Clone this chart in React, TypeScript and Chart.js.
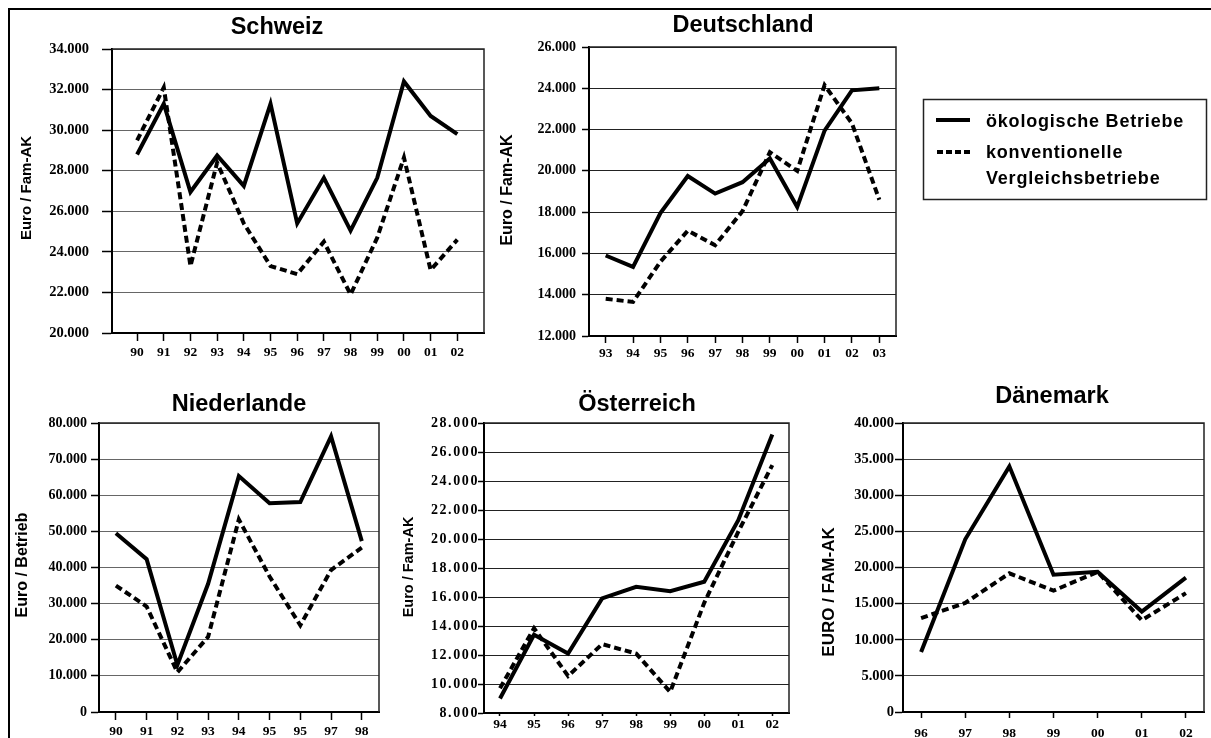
import React, { useEffect, useRef } from 'react';
import { Chart, registerables } from 'chart.js';

Chart.register(...registerables);

const PAGE_W = 1211;
const PAGE_H = 738;
const CANVAS_H = 790;

// ---------- DATA ----------
const seriesNames = ['ökologische Betriebe', 'konventionelle Vergleichsbetriebe'];

const chYears = ['90', '91', '92', '93', '94', '95', '96', '97', '98', '99', '00', '01', '02'];
const chOeko = [28800, 31300, 26950, 28750, 27250, 31300, 25400, 27650, 25050, 27650, 32400, 30700, 29800];
const chKonv = [29500, 32100, 23300, 28400, 25400, 23300, 22900, 24500, 21900, 24700, 28650, 23100, 24600];

const deYears = ['93', '94', '95', '96', '97', '98', '99', '00', '01', '02', '03'];
const deOeko = [15900, 15350, 17950, 19750, 18900, 19450, 20600, 18250, 21950, 23900, 24000];
const deKonv = [13800, 13650, 15600, 17100, 16400, 18050, 20900, 20000, 24150, 22300, 18600];

const nlYears = ['90', '91', '92', '93', '94', '95', '95', '97', '98'];
const nlOeko = [49500, 42300, 13000, 35500, 65300, 57800, 58100, 76300, 47300];
const nlKonv = [35000, 29200, 11000, 20800, 53300, 37500, 24000, 39300, 45500];

const atYears = ['94', '95', '96', '97', '98', '99', '00', '01', '02'];
const atOeko = [9000, 13400, 12100, 15900, 16700, 16400, 17050, 21300, 27200];
const atKonv = [9700, 13850, 10550, 12750, 12100, 9450, 15600, 20500, 25100];

const dkYears = ['96', '97', '98', '99', '00', '01', '02'];
const dkOeko = [8300, 23900, 34000, 19000, 19400, 13900, 18600];
const dkKonv = [13000, 15100, 19200, 16800, 19400, 12700, 16450];

// ---------- PANEL LAYOUT / STYLE ----------
type Panel = {
  title: string; titleX: number; titleY: number;
  yTitle: string; yTitleX: number; yTitleY: number; yTitleSize: number;
  labels: string[]; oeko: number[]; konv: number[];
  yMin: number; yMax: number; yStep: number;
  L: number; T: number; R: number; B: number;
  padL: number; padR: number;
  yTickLen: number; yTickPad: number; xTickLen: number; xTickPad: number;
  yFont: number; xFont: number; gridColor: string; ySpacing: number;
  legend?: boolean;
};

const panels: Panel[] = [
  {
    title: 'Schweiz', titleX: 277, titleY: 34,
    yTitle: 'Euro / Fam-AK', yTitleX: 31, yTitleY: 188, yTitleSize: 15,
    labels: chYears, oeko: chOeko, konv: chKonv,
    yMin: 20000, yMax: 34000, yStep: 2000,
    L: 112, T: 49, R: 484, B: 333, padL: 0.94, padR: 1.0,
    yTickLen: 10, yTickPad: 13, xTickLen: 8, xTickPad: 3,
    yFont: 14.5, xFont: 13.5, gridColor: '#666', ySpacing: 0,
  },
  {
    title: 'Deutschland', titleX: 743, titleY: 32,
    yTitle: 'Euro / Fam-AK', yTitleX: 512, yTitleY: 190, yTitleSize: 16,
    labels: deYears, oeko: deOeko, konv: deKonv,
    yMin: 12000, yMax: 26000, yStep: 2000,
    L: 589, T: 47, R: 896, B: 336, padL: 0.61, padR: 0.61,
    yTickLen: 7, yTickPad: 6, xTickLen: 7, xTickPad: 2,
    yFont: 14, xFont: 13.5, gridColor: '#222', ySpacing: 0, legend: true,
  },
  {
    title: 'Niederlande', titleX: 239, titleY: 411,
    yTitle: 'Euro / Betrieb', yTitleX: 27, yTitleY: 565, yTitleSize: 16,
    labels: nlYears, oeko: nlOeko, konv: nlKonv,
    yMin: 0, yMax: 80000, yStep: 10000,
    L: 99, T: 423, R: 379, B: 712, padL: 0.55, padR: 0.56,
    yTickLen: 8, yTickPad: 4, xTickLen: 8, xTickPad: 3,
    yFont: 14, xFont: 13.5, gridColor: '#666', ySpacing: 0,
  },
  {
    title: 'Österreich', titleX: 637, titleY: 411,
    yTitle: 'Euro / Fam-AK', yTitleX: 412.5, yTitleY: 567, yTitleSize: 14.5,
    labels: atYears, oeko: atOeko, konv: atKonv,
    yMin: 8000, yMax: 28000, yStep: 2000,
    L: 484, T: 423, R: 789, B: 713, padL: 0.47, padR: 0.49,
    yTickLen: 6, yTickPad: -1, xTickLen: 3, xTickPad: 0,
    yFont: 14, xFont: 13.5, gridColor: '#222', ySpacing: 1.6,
  },
  {
    title: 'Dänemark', titleX: 1052, titleY: 403,
    yTitle: 'EURO / FAM-AK', yTitleX: 834, yTitleY: 592, yTitleSize: 17,
    labels: dkYears, oeko: dkOeko, konv: dkKonv,
    yMin: 0, yMax: 40000, yStep: 5000,
    L: 903, T: 423, R: 1204, B: 712, padL: 0.41, padR: 0.41,
    yTickLen: 8, yTickPad: 1, xTickLen: 6, xTickPad: 7,
    yFont: 14.5, xFont: 13.5, gridColor: '#444', ySpacing: 0,
  },
];

const SANS = '"Liberation Sans", Arial, sans-serif';
const SERIF = '"Liberation Serif", "Times New Roman", serif';
const X_AXIS_H = 40;

const fmt = (v: number) => (v === 0 ? '0' : `${Math.round(v / 1000)}.000`);

function makeDecor(p: Panel) {
  return {
    id: 'decor',
    afterDraw(chart: Chart) {
      const ctx = chart.ctx;
      const a = chart.chartArea;
      ctx.save();
      // top & right frame of the plot
      ctx.strokeStyle = '#222';
      ctx.lineWidth = 1.5;
      ctx.setLineDash([]);
      ctx.beginPath();
      ctx.moveTo(a.left, a.top);
      ctx.lineTo(a.right, a.top);
      ctx.lineTo(a.right, a.bottom);
      ctx.stroke();
      // title
      ctx.fillStyle = '#000';
      ctx.textAlign = 'center';
      ctx.textBaseline = 'alphabetic';
      ctx.font = `bold 23.5px ${SANS}`;
      ctx.fillText(p.title, p.titleX, p.titleY);
      // y-axis title
      ctx.save();
      ctx.translate(p.yTitleX, p.yTitleY);
      ctx.rotate(-Math.PI / 2);
      ctx.font = `bold ${p.yTitleSize}px ${SANS}`;
      ctx.fillText(p.yTitle, 0, 0);
      ctx.restore();

      if (p.legend) {
        ctx.strokeStyle = '#222';
        ctx.lineWidth = 1.5;
        ctx.strokeRect(923.5, 99.5, 283, 100);
        ctx.strokeStyle = '#000';
        ctx.lineWidth = 4;
        ctx.lineCap = 'butt';
        ctx.beginPath();
        ctx.moveTo(936, 120);
        ctx.lineTo(970, 120);
        ctx.stroke();
        ctx.setLineDash([6, 3]);
        ctx.beginPath();
        ctx.moveTo(937, 152);
        ctx.lineTo(970, 152);
        ctx.stroke();
        ctx.setLineDash([]);
        ctx.textAlign = 'left';
        ctx.font = `bold 18px ${SANS}`;
        try { (ctx as any).letterSpacing = '0.8px'; } catch (e) { /* ignore */ }
        ctx.fillText(seriesNames[0], 986, 127);
        const parts = seriesNames[1].split(' ');
        ctx.fillText(parts[0], 986, 158);
        ctx.fillText(parts[1], 986, 184);
        try { (ctx as any).letterSpacing = '0px'; } catch (e) { /* ignore */ }
      }
      ctx.restore();
    },
  };
}

function makeConfig(p: Panel): any {
  const n = p.labels.length;
  return {
    type: 'line',
    data: {
      datasets: [
        {
          label: seriesNames[0],
          data: p.oeko.map((y, i) => ({ x: i, y })),
          borderColor: '#000',
          borderWidth: 4,
          pointRadius: 0,
          tension: 0,
          fill: false,
          borderJoinStyle: 'miter',
          borderCapStyle: 'butt',
        },
        {
          label: seriesNames[1],
          data: p.konv.map((y, i) => ({ x: i, y })),
          borderColor: '#000',
          borderWidth: 4,
          borderDash: [7, 4],
          pointRadius: 0,
          tension: 0,
          fill: false,
          borderJoinStyle: 'miter',
          borderCapStyle: 'butt',
        },
      ],
    },
    options: {
      responsive: false,
      animation: false,
      devicePixelRatio: 1,
      events: [],
      layout: {
        padding: {
          left: 0,
          top: p.T,
          right: PAGE_W - p.R,
          bottom: CANVAS_H - p.B - X_AXIS_H,
        },
      },
      plugins: {
        legend: { display: false },
        tooltip: { enabled: false },
        title: { display: false },
      },
      scales: {
        x: {
          type: 'linear',
          min: -p.padL,
          max: n - 1 + p.padR,
          afterBuildTicks: (s: any) => {
            s.ticks = p.labels.map((_, i) => ({ value: i }));
          },
          afterFit: (s: any) => {
            s.height = X_AXIS_H;
            s.paddingLeft = 0;
            s.paddingRight = 0;
          },
          ticks: {
            autoSkip: false,
            maxRotation: 0,
            minRotation: 0,
            padding: p.xTickPad,
            color: '#000',
            font: { family: SERIF, size: p.xFont, weight: 'bold' },
            callback: (_v: any, i: number) => p.labels[i],
          },
          grid: {
            drawOnChartArea: false,
            drawTicks: true,
            tickLength: p.xTickLen,
            tickColor: '#000',
            tickWidth: 1.5,
          },
          border: { display: true, color: '#000', width: 2 },
        },
        y: {
          type: 'linear',
          min: p.yMin,
          max: p.yMax,
          afterFit: (s: any) => {
            s.width = p.L;
            s.paddingTop = 0;
            s.paddingBottom = 0;
            if (p.ySpacing && !s.__spaced) {
              const orig = s.drawLabels.bind(s);
              s.drawLabels = (area: any) => {
                const ctx: any = s.ctx;
                ctx.save();
                ctx.letterSpacing = `${p.ySpacing}px`;
                orig(area);
                ctx.restore();
                ctx.letterSpacing = '0px';
              };
              s.__spaced = true;
            }
          },
          ticks: {
            stepSize: p.yStep,
            padding: p.yTickPad,
            color: '#000',
            font: { family: SERIF, size: p.yFont, weight: 'bold' },
            callback: (v: any) => fmt(Number(v)),
          },
          grid: {
            color: p.gridColor,
            lineWidth: 1,
            drawTicks: true,
            tickLength: p.yTickLen,
            tickColor: '#000',
            tickWidth: 1.5,
          },
          border: { display: true, color: '#000', width: 2 },
        },
      },
    },
    plugins: [makeDecor(p)],
  };
}

function PanelChart({ p }: { p: Panel }) {
  const ref = useRef<HTMLCanvasElement>(null);
  useEffect(() => {
    if (!ref.current) return;
    const chart = new Chart(ref.current, makeConfig(p));
    return () => chart.destroy();
  }, [p]);
  return (
    <canvas
      ref={ref}
      width={PAGE_W}
      height={CANVAS_H}
      style={{ position: 'absolute', left: 0, top: 0, width: PAGE_W, height: CANVAS_H }}
    />
  );
}

export default function App() {
  return (
    <div
      style={{
        position: 'fixed',
        left: 0,
        top: 0,
        width: PAGE_W,
        height: PAGE_H,
        overflow: 'hidden',
        background: '#fff',
      }}
    >
      <div
        style={{
          position: 'absolute',
          left: 8,
          top: 8,
          width: PAGE_W,
          height: PAGE_H,
          borderTop: '2px solid #000',
          borderLeft: '2px solid #000',
          boxSizing: 'border-box',
        }}
      />
      {panels.map((p) => (
        <PanelChart key={p.title} p={p} />
      ))}
    </div>
  );
}
